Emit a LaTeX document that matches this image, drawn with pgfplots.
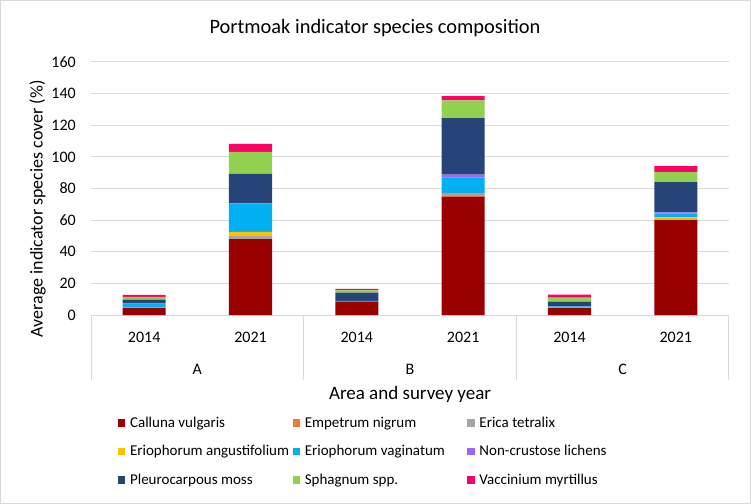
\documentclass[border=0pt]{standalone}
\usepackage{fontspec}
\setmainfont{Carlito}
\usepackage{pgfplots}
\usepackage{pgfplotstable}
\pgfplotsset{compat=1.18}
\definecolor{cal}{HTML}{990000}
\definecolor{emp}{HTML}{ED7D31}
\definecolor{eri}{HTML}{A5A5A5}
\definecolor{ang}{HTML}{FFC000}
\definecolor{vag}{HTML}{00B0F0}
\definecolor{lic}{HTML}{9966FF}
\definecolor{ple}{HTML}{264478}
\definecolor{sph}{HTML}{92D050}
\definecolor{vac}{HTML}{FF0066}
\definecolor{gridc}{HTML}{D9D9D9}
\pgfplotstableread{
x cal emp eri ang vag lic ple sph vac
0 4.4 0.3 0 0 2.6 0 2.5 1.7 1.3
1 48 0 1.9 2.7 17.8 0.2 18.6 14 5
2 8.2 0 0 0 0.8 0 5.1 1.5 0.9
3 74.7 0.4 2.1 0 9.9 1.7 35.7 11.3 2.6
4 4.4 0.3 0 0 0.8 0 3.0 2.5 1.9
5 60.1 0 0 1.7 2.3 0.8 19.2 6.3 3.8
}\data
\pgfplotsset{sq/.style={legend image code/.code={\fill[##1] (0bp,-3.7bp) rectangle (7.4bp,3.7bp);}}}
\newcommand{\lgbox}[1]{\makebox[162.6bp][l]{#1}}
\begin{document}
\begin{tikzpicture}
\useasboundingbox (0,0) rectangle (751bp,504bp);
\fill[white] (0,0) rectangle (751bp,504bp);
\draw[gridc, line width=1bp] (0.5bp,0.5bp) rectangle (750.5bp,503.5bp);
\node[anchor=base, font=\fontsize{20.4bp}{24bp}\selectfont] at (375bp,470bp) {Portmoak indicator species composition};
\begin{axis}[
 at={(91bp,189bp)}, anchor=south west, scale only axis,
 width=638bp, height=253bp,
 xmin=-0.5, xmax=5.5, ymin=0, ymax=160, ytick={0,20,...,160},
 ybar stacked, bar width=43bp,
 xtick={0,...,5}, xticklabels={2014,2021,2014,2021,2014,2021},
 major tick length=0pt,
 axis line style={draw=none},
 ymajorgrids, grid style={draw=gridc, line width=1bp},
 tick label style={font=\fontsize{16bp}{19bp}\selectfont},
 /pgf/number format/assume math mode=true,
 xticklabel style={anchor=base, inner sep=0pt, yshift=-27bp},
 yticklabel style={anchor=east, inner sep=0pt, xshift=-15bp},
 ylabel={Average indicator species cover (\%)},
 ylabel style={at={(axis description cs:-0.0839,0.42)}, anchor=center, font=\fontsize{18bp}{21bp}\selectfont},
 xlabel={Area and survey year},
 xlabel style={at={(axis description cs:0.5,0)}, anchor=base, yshift=-84bp, font=\fontsize{19bp}{22bp}\selectfont},
 clip=false,
 legend columns=3,
 legend style={draw=none, fill=none, inner sep=0pt, outer sep=0pt,
   at={(0.0423,-0.4004)}, anchor=north west,
   column sep=0pt, row sep=15.5bp,
   /tikz/every odd column/.append style={column sep=4.7bp},
   nodes={inner sep=0pt, anchor=west, text height=11bp, text depth=2bp},
   font=\fontsize{15bp}{18bp}\selectfont},
]
\addplot[fill=cal, draw=none, sq] table[x=x,y=cal]{\data};
\addplot[fill=emp, draw=none, sq] table[x=x,y=emp]{\data};
\addplot[fill=eri, draw=none, sq] table[x=x,y=eri]{\data};
\addplot[fill=ang, draw=none, sq] table[x=x,y=ang]{\data};
\addplot[fill=vag, draw=none, sq] table[x=x,y=vag]{\data};
\addplot[fill=lic, draw=none, sq] table[x=x,y=lic]{\data};
\addplot[fill=ple, draw=none, sq] table[x=x,y=ple]{\data};
\addplot[fill=sph, draw=none, sq] table[x=x,y=sph]{\data};
\addplot[fill=vac, draw=none, sq] table[x=x,y=vac]{\data};
\legend{\lgbox{Calluna vulgaris},\lgbox{Empetrum nigrum},\lgbox{Erica tetralix},\lgbox{Eriophorum angustifolium},\lgbox{Eriophorum vaginatum},\lgbox{Non-crustose lichens},\lgbox{Pleurocarpous moss},\lgbox{Sphagnum spp.},\lgbox{Vaccinium myrtillus}}
\draw[gridc, line width=1bp] (axis cs:-0.5,0) -- ++(0bp,-65bp);
\draw[gridc, line width=1bp] (axis cs:1.5,0) -- ++(0bp,-65bp);
\draw[gridc, line width=1bp] (axis cs:3.5,0) -- ++(0bp,-65bp);
\draw[gridc, line width=1bp] (axis cs:5.5,0) -- ++(0bp,-65bp);
\node[anchor=base, font=\fontsize{16bp}{19bp}\selectfont] at (axis cs:0.5,0) [yshift=-59bp] {A};
\node[anchor=base, font=\fontsize{16bp}{19bp}\selectfont] at (axis cs:2.5,0) [yshift=-59bp] {B};
\node[anchor=base, font=\fontsize{16bp}{19bp}\selectfont] at (axis cs:4.5,0) [yshift=-59bp] {C};
\end{axis}
\end{tikzpicture}
\end{document}
